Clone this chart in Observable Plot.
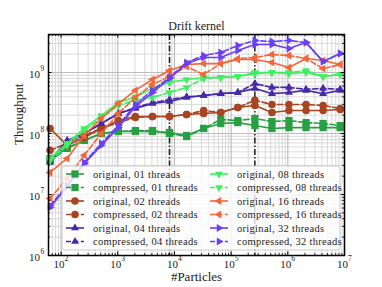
<!DOCTYPE html>
<html><head><meta charset="utf-8">
<script src="https://cdn.jsdelivr.net/npm/d3@7"></script>
<script src="https://cdn.jsdelivr.net/npm/@observablehq/plot@0.6"></script>
<style>body{margin:0;background:#fff;}</style>
</head><body><div id="chart"></div>
<script>
// ---- data ----
const particles = [64,128,256,512,1024,2048,4096,8192,16384,32768,65536,131072,262144,524288,1048576,2097152,4194304,8388608];
const orig01 = [3.9e7,5.9e7,7.7e7,1.0e8,1.08e8,1.08e8,1.08e8,1.04e8,9.3e7,1.21e8,1.46e8,1.51e8,1.35e8,1.21e8,1.25e8,1.25e8,1.25e8,1.25e8];
const comp01 = [3.6e7,5.7e7,7.7e7,1.0e8,1.08e8,1.12e8,1.12e8,1.0e8,8.9e7,1.21e8,1.70e8,1.63e8,1.76e8,1.57e8,1.63e8,1.51e8,1.46e8,1.35e8];
const orig02 = [1.21e8,6.4e7,8.6e7,1.21e8,1.63e8,1.90e8,1.90e8,1.90e8,2.05e8,2.13e8,2.21e8,2.67e8,2.88e8,2.21e8,2.38e8,2.38e8,2.38e8,2.47e8];
const comp02 = [5.3e7,6.9e7,9.3e7,1.21e8,1.51e8,1.83e8,1.90e8,1.90e8,2.05e8,2.38e8,2.21e8,2.67e8,3.5e8,2.99e8,2.99e8,2.99e8,2.88e8,2.57e8];
const orig04 = [3.6e7,7.7e7,1.0e8,1.46e8,2.13e8,2.57e8,3.1e8,3.35e8,3.9e8,4.2e8,4.5e8,4.7e8,5.5e8,4.5e8,4.7e8,5.1e8,4.5e8,5.1e8];
const comp04 = [3.35e7,7.1e7,1.0e8,1.46e8,2.13e8,2.67e8,3.2e8,3.6e8,4.0e8,4.2e8,4.5e8,4.7e8,6.6e8,5.7e8,5.7e8,5.3e8,5.5e8,5.3e8];
const orig08 = [3.9e7,6.9e7,1.21e8,1.97e8,3.2e8,4.0e8,5.5e8,6.9e8,7.7e8,8.3e8,8.3e8,8.6e8,9.6e8,1.0e9,9.6e8,1.0e9,8.6e8,9.3e8];
const comp08 = [3.6e7,6.4e7,1.12e8,1.83e8,2.88e8,3.5e8,3.9e8,4.7e8,5.7e8,8.0e8,8.3e8,8.6e8,1.0e9,1.0e9,1.0e9,1.08e9,8.6e8,9.3e8];
const orig16 = [2.3e7,3.9e7,9.3e7,1.76e8,3.1e8,5.1e8,7.7e8,1.08e9,1.35e9,1.40e9,1.40e9,1.63e9,1.63e9,1.46e9,1.21e9,1.70e9,1.57e9,1.35e9];
const comp16 = [8.6e6,1.83e7,4.4e7,1.0e8,2.13e8,3.9e8,6.4e8,8.6e8,1.25e9,9.3e8,1.40e9,1.70e9,1.76e9,1.97e9,1.90e9,1.70e9,1.16e9,1.35e9];
const orig32 = [6.1e6,1.35e7,3.2e7,6.4e7,1.25e8,2.77e8,4.7e8,8.0e8,1.40e9,1.76e9,1.76e9,2.29e9,2.88e9,2.88e9,2.47e9,3.10e9,1.51e9,2.05e9];
const comp32 = [6.6e6,1.40e7,3.35e7,6.9e7,1.35e8,2.99e8,5.1e8,8.3e8,1.46e9,1.90e9,2.13e9,2.77e9,3.35e9,3.22e9,3.35e9,3.10e9,1.51e9,2.05e9];
const seriesLabels = ["original, 01 threads","compressed, 01 threads","original, 02 threads","compressed, 02 threads","original, 04 threads","compressed, 04 threads","original, 08 threads","compressed, 08 threads","original, 16 threads","compressed, 16 threads","original, 32 threads","compressed, 32 threads"];
const seriesValues = [orig01,comp01,orig02,comp02,orig04,comp04,orig08,comp08,orig16,comp16,orig32,comp32];
const threadColors = ["#27a043","#a8441f","#4628a8","#3ff05e","#f5653a","#6a3ff5"];
const cacheMarks = [8192, 262144];
const xTicks = [1e2,1e3,1e4,1e5,1e6,1e7];
const xExps = ["2","3","4","5","6","7"];
const yTicks = [1e6,1e7,1e8,1e9];
const yExps = ["6","7","8","9"];
const title = "Drift kernel";
const xLabel = "#Particles";
const yLabel = "Throughput";

// ---- symbols ----
function tri(angle){
  return {draw(ctx, size){
    const R = Math.sqrt(size/Math.PI)*1.2;
    for(let i=0;i<3;i++){const a=angle+i*2*Math.PI/3;const x=R*Math.cos(a),y=R*Math.sin(a);if(i)ctx.lineTo(x,y);else ctx.moveTo(x,y);}
    ctx.closePath();
  }};
}
const sq = {draw(ctx,size){const h=Math.sqrt(size/Math.PI)*0.95;ctx.rect(-h,-h,2*h,2*h);}};
const symbols = [sq, d3.symbolCircle, tri(-Math.PI/2), tri(Math.PI/2), tri(Math.PI), tri(0)];

const series = seriesLabels.map((label,i)=>({
  label, color: threadColors[Math.floor(i/2)], symbol: symbols[Math.floor(i/2)], dashed: i%2===1,
  rows: particles.map((n,j)=>({n, v: seriesValues[i][j]}))
}));

// ---- scaffolding ticks ----
const W=382,H=287,mL=48,mR=38,mT=34,mB=32;
const PH = H-mT-mB, PW = W-mL-mR;
const xMinor = [], yMinor = [];
for (let d=1; d<7; d++) for (let k=2;k<10;k++){const v=k*10**d; if(v>60 && v<1e7) xMinor.push(v);}
for (let d=6; d<10; d++) for (let k=2;k<10;k++){const v=k*10**d; if(v<4.2e9) yMinor.push(v);}

const serif = "Liberation Serif, DejaVu Serif, serif";
const txt = {fontFamily:serif, fill:"#222", lineAnchor:"middle"};
const marks = [
  Plot.ruleX(xMinor, {x: d=>d, stroke:"#d0d0d0", strokeWidth:0.8}),
  Plot.ruleY(yMinor, {y: d=>d, stroke:"#d0d0d0", strokeWidth:0.8}),
  Plot.ruleX(xTicks, {x: d=>d, stroke:"#bdbdbd", strokeWidth:1.2}),
  Plot.ruleY(yTicks, {y: d=>d, stroke:"#bdbdbd", strokeWidth:1.2}),
  Plot.ruleX(cacheMarks, {x: d=>d, stroke:"#1a1a1a", strokeWidth:1.5, strokeDasharray:"6,2,1.5,2"})
];
for (const s of series){
  marks.push(Plot.line(s.rows, {x:"n", y:"v", stroke:s.color, strokeWidth:1.6, strokeDasharray: s.dashed?"5.5,2.4":null}));
  marks.push(Plot.dot(s.rows, {x:"n", y:"v", fill:s.color, symbol:s.symbol, r:3.8}));
}
marks.push(
  Plot.frame({stroke:"black", strokeWidth:1.5}),
  Plot.ruleX(xTicks, {x:d=>d, stroke:"black", insetTop: PH-3.5}),
  Plot.ruleX(xTicks, {x:d=>d, stroke:"black", insetBottom: PH-3.5}),
  Plot.ruleX(xMinor, {x:d=>d, stroke:"black", strokeWidth:0.8, insetTop: PH-2}),
  Plot.ruleX(xMinor, {x:d=>d, stroke:"black", strokeWidth:0.8, insetBottom: PH-2}),
  Plot.ruleY(yTicks, {y:d=>d, stroke:"black", insetRight: PW-3.5}),
  Plot.ruleY(yTicks, {y:d=>d, stroke:"black", insetLeft: PW-3.5}),
  Plot.ruleY(yMinor, {y:d=>d, stroke:"black", strokeWidth:0.8, insetRight: PW-2}),
  Plot.ruleY(yMinor, {y:d=>d, stroke:"black", strokeWidth:0.8, insetLeft: PW-2}),
  Plot.text(xTicks, {x:d=>d, text:()=>"10", frameAnchor:"bottom", dy:8.5, dx:-2, fontSize:11, ...txt}),
  Plot.text(xTicks, {x:d=>d, text:(d,i)=>xExps[i], frameAnchor:"bottom", dy:3, dx:3.5, textAnchor:"start", fontSize:7.5, ...txt}),
  Plot.text(yTicks, {y:d=>d, text:()=>"10", frameAnchor:"left", dx:-8.5, dy:1.5, textAnchor:"end", fontSize:11, ...txt}),
  Plot.text(yTicks, {y:d=>d, text:(d,i)=>yExps[i], frameAnchor:"left", dx:-8, dy:-3.5, textAnchor:"start", fontSize:7.5, ...txt}),
  Plot.text([title], {text:d=>d, frameAnchor:"top", dy:-8, fontSize:12, ...txt}),
  Plot.text([xLabel], {text:d=>d, frameAnchor:"bottom", dy:21, fontSize:13, ...txt}),
  Plot.text([yLabel], {text:d=>d, frameAnchor:"left", dx:-30, rotate:-90, fontSize:13, ...txt})
);

const chart = Plot.plot({
  width:W, height:H, marginLeft:mL, marginRight:mR, marginTop:mT, marginBottom:mB,
  x:{type:"log", domain:[60,1e7], axis:null},
  y:{type:"log", domain:[1e6,4.2e9], axis:null},
  style:{fontFamily:serif, background:"white"},
  marks
});

// ---- legend ----
const svg = d3.select(chart);
const lg = svg.append("g");
lg.append("rect").attr("x",62).attr("y",166).attr("width",278).attr("height",84).attr("rx",3)
  .attr("fill","white").attr("fill-opacity",0.8).attr("stroke","#cccccc").attr("stroke-width",1);
series.forEach((s,i)=>{
  const col = i<6?0:1, row = i%6;
  const x0 = col?210:66, y = 174+row*13.5;
  lg.append("line").attr("x1",x0).attr("x2",x0+18).attr("y1",y).attr("y2",y)
    .attr("stroke",s.color).attr("stroke-width",1.6).attr("stroke-dasharray",s.dashed?"5,2.4":null);
  lg.append("path").attr("d", d3.symbol(s.symbol, 3.8*3.8*Math.PI)()).attr("transform",`translate(${x0+9},${y})`).attr("fill",s.color);
  lg.append("text").attr("x",x0+27).attr("y",y).attr("dy","0.35em").attr("text-anchor","start")
    .attr("font-size",10.5).attr("letter-spacing",0.3).attr("font-family",serif).attr("fill","#222").text(s.label);
});
document.getElementById("chart").appendChild(chart);
</script>
</body></html>
